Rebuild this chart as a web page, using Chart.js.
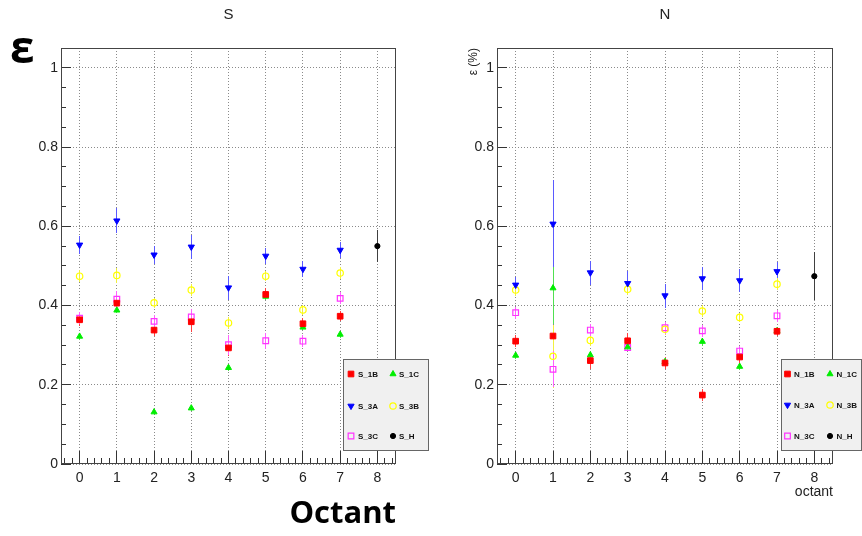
<!DOCTYPE html>
<html><head><meta charset="utf-8">
<script src="https://cdn.jsdelivr.net/npm/chart.js@4.4.1/dist/chart.umd.min.js"></script>
<style>
html,body{margin:0;padding:0;background:#fff;}
#wrap{position:relative;width:862px;height:536px;overflow:hidden;background:#fff;}
canvas{position:absolute;top:0;}
#eps{position:absolute;left:10px;top:24px;font:bold 44px "Open Sans",sans-serif;color:#000;line-height:1;}
</style></head><body>
<div id="wrap">
<canvas id="cS" width="431" height="536" style="left:0"></canvas>
<canvas id="cN" width="431" height="536" style="left:431px"></canvas>
<div id="eps">ε</div>
</div>
<script>
// ---------- data ----------
const octants = [0, 1, 2, 3, 4, 5, 6, 7];
const hOctant = [8];
const xTickLabels = ['0','1','2','3','4','5','6','7','8'];
const yTickValues = [0, 0.2, 0.4, 0.6, 0.8, 1];

const S_1B     = [0.364, 0.406, 0.338, 0.359, 0.293, 0.428, 0.354, 0.373];
const S_1B_err = [0.015, 0.015, 0.015, 0.025, 0.020, 0.015, 0.015, 0.012];
const S_1C     = [0.322, 0.388, 0.131, 0.141, 0.243, 0.423, 0.345, 0.327];
const S_1C_err = [0.008, 0.008, 0.006, 0.006, 0.008, 0.010, 0.008, 0.008];
const S_3A     = [0.553, 0.614, 0.528, 0.548, 0.445, 0.525, 0.492, 0.540];
const S_3A_err = [0.022, 0.032, 0.022, 0.030, 0.030, 0.021, 0.020, 0.021];
const S_3B     = [0.474, 0.476, 0.407, 0.439, 0.356, 0.474, 0.389, 0.482];
const S_3B_err = [0.015, 0.018, 0.012, 0.015, 0.015, 0.012, 0.012, 0.015];
const S_3C     = [0.368, 0.416, 0.360, 0.371, 0.301, 0.311, 0.310, 0.418];
const S_3C_err = [0.015, 0.020, 0.015, 0.020, 0.025, 0.020, 0.015, 0.015];
const S_H      = [0.550];
const S_H_err  = [0.040];

const N_1B     = [0.310, 0.323, 0.261, 0.311, 0.255, 0.174, 0.270, 0.335];
const N_1B_err = [0.015, 0.020, 0.020, 0.020, 0.015, 0.015, 0.020, 0.012];
const N_1C     = [0.274, 0.444, 0.275, 0.295, 0.258, 0.309, 0.246, 0.336];
const N_1C_err = [0.008, 0.090, 0.008, 0.010, 0.010, 0.010, 0.008, 0.008];
const N_3A     = [0.452, 0.606, 0.483, 0.456, 0.425, 0.468, 0.463, 0.486];
const N_3A_err = [0.020, 0.110, 0.030, 0.030, 0.030, 0.030, 0.030, 0.025];
const N_3B     = [0.439, 0.272, 0.312, 0.441, 0.340, 0.386, 0.370, 0.454];
const N_3B_err = [0.015, 0.080, 0.015, 0.015, 0.015, 0.015, 0.012, 0.015];
const N_3C     = [0.382, 0.239, 0.338, 0.294, 0.344, 0.336, 0.285, 0.374];
const N_3C_err = [0.015, 0.045, 0.015, 0.010, 0.015, 0.015, 0.012, 0.015];
const N_H      = [0.474];
const N_H_err  = [0.060];

// ---------- styles ----------
const FONT = '"Liberation Sans", Arial, sans-serif';
const STY = {
  '1B': {pointStyle:'rect', radius:4, rotation:0, bg:'#ff0000', bc:'#ff0000', ec:'#ff4040', bw:1},
  '1C': {pointStyle:'triangle', radius:3.5, rotation:0, bg:'#00ee00', bc:'#00ee00', ec:'#50e050', bw:1},
  '3A': {pointStyle:'triangle', radius:3.6, rotation:180, bg:'#0000ff', bc:'#0000ff', ec:'#5a5aff', bw:1},
  '3B': {pointStyle:'circle', radius:3.2, rotation:0, bg:'rgba(0,0,0,0)', bc:'#ffff00', ec:'#f0f040', bw:1.2},
  '3C': {pointStyle:'rect', radius:4, rotation:0, bg:'rgba(0,0,0,0)', bc:'#ff33ff', ec:'#ff60ff', bw:1.2},
  'H':  {pointStyle:'circle', radius:2.6, rotation:0, bg:'#000000', bc:'#000000', ec:'#404040', bw:1}
};
const ERRCOL = {};
function mk(label, key, xs, ys, errs){
  const s = STY[key];
  ERRCOL[label] = {errs, color: s.ec};
  return {label, data: xs.map((x,i)=>({x, y: ys[i]})),
    pointStyle: s.pointStyle, pointRadius: s.radius, pointRotation: s.rotation,
    backgroundColor: s.bg, borderColor: s.bc, pointBorderWidth: s.bw, borderWidth: s.bw,
    pointHoverRadius: s.radius, showLine:false};
}

// ---------- plugins ----------
const errorBars = {id:'errorBars', beforeDatasetsDraw(chart){
  const {ctx, scales:{x, y}} = chart;
  chart.data.datasets.forEach(d => {
    const info = ERRCOL[d.label];
    if (!info) return;
    d.data.forEach((p, j) => {
      const e = info.errs[j];
      const px = Math.round(x.getPixelForValue(p.x) - 0.5);
      const y1 = Math.round(y.getPixelForValue(p.y + e));
      const y2 = Math.round(y.getPixelForValue(p.y - e));
      ctx.save();
      ctx.fillStyle = info.color;
      ctx.fillRect(px, y1, 1, y2 - y1);
      ctx.restore();
    });
  });
}};

const frameTicks = {id:'frameTicks', afterDatasetsDraw(chart){
  const {ctx, chartArea:a, scales:{x, y}} = chart;
  ctx.save();
  ctx.setLineDash([]);
  ctx.strokeStyle = '#333'; ctx.lineWidth = 1;
  ctx.beginPath();
  for (let k = -2; k <= 42; k++) {
    const v = k / 5, px = Math.round(x.getPixelForValue(v) - 0.5) + 0.5;
    if (px < a.left || px > a.right) continue;
    const len = (k % 5 === 0) ? 13 : 6;
    ctx.moveTo(px, a.bottom); ctx.lineTo(px, a.bottom - len);
  }
  for (let k = 0; k <= 21; k++) {
    const v = k * 0.05, py = Math.round(y.getPixelForValue(v) - 0.5) + 0.5;
    if (py < a.top) continue;
    const len = (k % 4 === 0) ? 10 : 5;
    ctx.moveTo(a.left, py); ctx.lineTo(a.left + len, py);
  }
  ctx.stroke();
  ctx.strokeStyle = '#444';
  ctx.strokeRect(a.left + 0.5, a.top + 0.5, a.right - a.left - 1, a.bottom - a.top - 1);
  ctx.restore();
}};

const rootLegend = {id:'rootLegend', afterDraw(chart, args, o){
  if (!o || !o.box) return;
  const ctx = chart.ctx, b = o.box;
  ctx.save();
  ctx.setLineDash([]);
  ctx.fillStyle = '#f0f0f0';
  ctx.fillRect(b.x, b.y, b.w, b.h);
  ctx.strokeStyle = '#666'; ctx.lineWidth = 1;
  ctx.strokeRect(b.x + 0.5, b.y + 0.5, b.w - 1, b.h - 1);
  ctx.font = 'bold 8px ' + FONT;
  ctx.textBaseline = 'middle'; ctx.textAlign = 'left';
  chart.data.datasets.forEach((d, i) => {
    const col = i % 2, row = Math.floor(i / 2);
    const mx = o.cols[col][0], tx = o.cols[col][1], yy = o.rows[row];
    ctx.fillStyle = d.backgroundColor; ctx.strokeStyle = d.borderColor; ctx.lineWidth = d.pointBorderWidth;
    Chart.helpers.drawPoint(ctx, {pointStyle: d.pointStyle, rotation: d.pointRotation, radius: d.pointRadius, borderWidth: d.pointBorderWidth}, mx, yy);
    ctx.fillStyle = '#111';
    ctx.fillText(d.label, tx, yy + 0.5);
  });
  ctx.restore();
}};

function makeOpts(cfg){
  return {
    responsive:false, animation:false, devicePixelRatio:1, events:[],
    layout:{padding:{left:0, right:cfg.padRight, top:0, bottom:0}},
    plugins:{
      legend:{display:false}, tooltip:{enabled:false},
      title:{display:true, text:cfg.title, fullSize:false, color:'#222',
        font:{family:FONT, size:15, weight:'normal', lineHeight:1.2}, padding:{top:6, bottom:24}},
      rootLegend: cfg.legend
    },
    scales:{
      x:{type:'linear', min:-0.5, max:8.5,
        afterBuildTicks:(s)=>{ s.ticks = xTickLabels.map((_, i) => ({value: i})); },
        ticks:{padding:6, color:'#222', maxRotation:0, autoSkip:false,
          font:{family:FONT, size:14}, callback:(v)=>xTickLabels[Math.round(v)] ?? ''},
        grid:{color:'#8a8a8a', drawTicks:false, lineWidth:1},
        border:{display:false, dash:[1,2]},
        title:cfg.xTitle,
        afterFit:(s)=>{ s.height = 72; }},
      y:{type:'linear', min:0, max:1.05,
        afterBuildTicks:(s)=>{ s.ticks = yTickValues.map(v => ({value: v})); },
        ticks:{padding:3, color:'#222',
          font:{family:FONT, size:14}, callback:(v)=>String(+v.toFixed(1))},
        grid:{color:'#8a8a8a', drawTicks:false, lineWidth:1},
        border:{display:false, dash:[1,2]},
        title:cfg.yTitle,
        afterFit:(s)=>{ s.width = cfg.yWidth; }}
    }
  };
}

new Chart(document.getElementById('cS'), {
  type:'scatter',
  data:{datasets:[
    mk('S_1B','1B',octants,S_1B,S_1B_err),
    mk('S_1C','1C',octants,S_1C,S_1C_err),
    mk('S_3A','3A',octants,S_3A,S_3A_err),
    mk('S_3B','3B',octants,S_3B,S_3B_err),
    mk('S_3C','3C',octants,S_3C,S_3C_err),
    mk('S_H','H',hOctant,S_H,S_H_err)
  ]},
  options: makeOpts({title:'S', padRight:35, yWidth:61,
    xTitle:{display:true, text:'Octant', align:'end', color:'#000',
      font:{family:'"Open Sans", sans-serif', size:31, weight:'bold', lineHeight:1.2}, padding:{top:0, bottom:3}},
    yTitle:{display:false},
    legend:{box:{x:343, y:359, w:86, h:92}, cols:[[351,358],[393,399]], rows:[374,406,436]}}),
  plugins:[errorBars, frameTicks, rootLegend]
});

new Chart(document.getElementById('cN'), {
  type:'scatter',
  data:{datasets:[
    mk('N_1B','1B',octants,N_1B,N_1B_err),
    mk('N_1C','1C',octants,N_1C,N_1C_err),
    mk('N_3A','3A',octants,N_3A,N_3A_err),
    mk('N_3B','3B',octants,N_3B,N_3B_err),
    mk('N_3C','3C',octants,N_3C,N_3C_err),
    mk('N_H','H',hOctant,N_H,N_H_err)
  ]},
  options: makeOpts({title:'N', padRight:29, yWidth:66,
    xTitle:{display:true, text:'octant', align:'end', color:'#222',
      font:{family:FONT, size:14, lineHeight:1.2}, padding:{top:0, bottom:35}},
    yTitle:{display:true, text:'ε (%)', align:'end', color:'#222',
      font:{family:FONT, size:12, lineHeight:1.2}, padding:{top:35, bottom:0}},
    legend:{box:{x:350, y:359, w:81, h:92}, cols:[[356.5,363],[399,405.5]], rows:[374,405,436]}}),
  plugins:[errorBars, frameTicks, rootLegend]
});
</script>
</body></html>
